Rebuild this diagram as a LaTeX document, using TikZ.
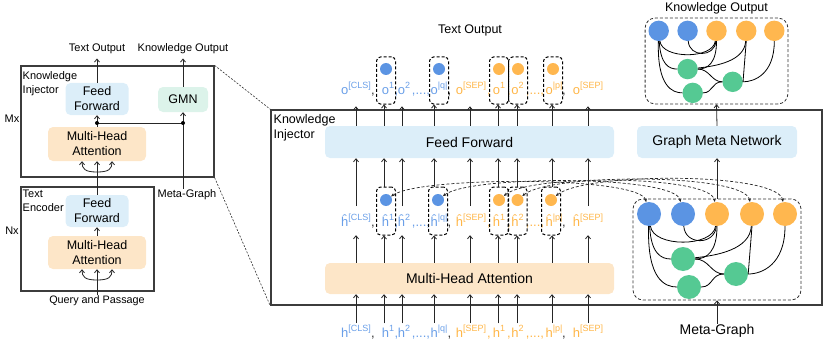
\documentclass[tikz,border=0pt]{standalone}
\usepackage{fontspec}
\setmainfont{Liberation Sans}
\usetikzlibrary{arrows.meta,calc}
\definecolor{ffblue}{HTML}{DCEEF9}
\definecolor{mhaor}{HTML}{FDE6C8}
\definecolor{gmngr}{HTML}{DCF3EA}
\definecolor{nblue}{HTML}{5B94E3}
\definecolor{norange}{HTML}{FFB74F}
\definecolor{ngreen}{HTML}{55C993}
\definecolor{tblue}{HTML}{6A9FE8}
\definecolor{torange}{HTML}{FFB648}
\definecolor{dk}{HTML}{333333}
\definecolor{frame}{HTML}{3C3C3C}
\newcommand{\tokfont}{\fontsize{13}{15}\selectfont}
\newcommand{\sps}[1]{\raisebox{0.4em}{\fontsize{9}{9}\selectfont #1}}
\newcommand{\kgbody}{%
  \node[gbox] (-box) at (0,0) {};
  \node[gn,fill=nblue] (-b1) at (-68,-35.5) {};
  \node[gn,fill=nblue] (-b2) at (-34,-35.5) {};
  \node[gn,fill=norange] (-o1) at (0,-35.5) {};
  \node[gn,fill=norange] (-o2) at (35,-35.5) {};
  \node[gn,fill=norange] (-o3) at (68,-35.5) {};
  \node[gn,fill=ngreen] (-g1) at (-34,9.5) {};
  \node[gn,fill=ngreen] (-g2) at (-28,37.5) {};
  \node[gn,fill=ngreen] (-g3) at (19,24.5) {};
  \draw[ge] (-b1) .. controls (-64,-2) and (-4,-2) .. (-o1);
  \draw[ge] (-b2) .. controls (-32,-4) and (-2,-4) .. (-o1);
  \draw[ge] (-b1) .. controls (-66,4) and (-56,9.5) .. (-g1);
  \draw[ge] (-b1) .. controls (-70,30) and (-52,37.5) .. (-g2);
  \draw[ge] (-o1) .. controls (0,2) and (-10,9.5) .. (-g1);
  \draw[ge] (-o2) .. controls (33,0) and (0,6) .. (-g1);
  \draw[ge] (-o2.south) -- (-g3.east);
  \draw[ge] (-o3) .. controls (68,15) and (45,24.5) .. (-g3);
  \draw[ge] (-g1) .. controls (-8,9.5) and (-6,24.5) .. (-g3);
  \draw[ge] (-g2) .. controls (-4,37.5) and (-6,24.5) .. (-g3);
}
\newcommand{\tokrow}[3]{%
  \node[tokb] (#11) at (356,#3) {#2\sps{[CLS]}};
  \node[tokb] (#12) at (388,#3) {#2\sps{1}};
  \node[tokb] (#13) at (404,#3) {#2\sps{2}};
  \node[tokb] (#14) at (439,#3) {#2\sps{|q|}};
  \node[toko] (#15) at (471,#3) {#2\sps{[SEP]}};
  \node[toko] (#16) at (499,#3) {#2\sps{1}};
  \node[toko] (#17) at (517.5,#3) {#2\sps{2}};
  \node[toko] (#18) at (554,#3) {#2\sps{|p|}};
  \node[toko] (#19) at (588,#3) {#2\sps{[SEP]}};
  \node[tsep=dk] (#1s1) at (373,#3) {,};
  \node[tsep=tblue] (#1s2) at (396.5,#3) {,};
  \node[tsep=tblue] (#1s3) at (421,#3) {,...,};
  \node[tsep=dk] (#1s4) at (449.5,#3) {,};
  \node[tsep=torange] (#1s5) at (489,#3) {,};
  \node[tsep=torange] (#1s6) at (509,#3) {,};
  \node[tsep=torange] (#1s7) at (535,#3) {,...,};
  \node[tsep=dk] (#1s8) at (564,#3) {,};
}
\begin{document}
\begin{tikzpicture}[x=1pt,y=-1pt,
  frm/.style={draw=frame,line width=1.2pt,inner sep=0pt},
  blk/.style={rounded corners=5pt,inner sep=0pt,align=center},
  ar/.style={line width=0.8pt,draw=black!85,-{Straight Barb[length=3pt,width=5pt]}},
  ln/.style={line width=0.8pt,draw=black!85},
  lab/.style={inner sep=0pt,anchor=base},
  tokb/.style={inner sep=0pt,anchor=base,text=tblue,font=\tokfont},
  toko/.style={inner sep=0pt,anchor=base,text=torange,font=\tokfont},
  tsep/.style={inner sep=0pt,anchor=base,text=#1,font=\tokfont},
  dbx/.style={draw=black,dash pattern=on 3pt off 2pt,line width=1pt,rounded corners=4pt,minimum width=19pt,inner sep=0pt},
  tc/.style={circle,inner sep=0pt,minimum size=12pt},
  gn/.style={circle,inner sep=0pt,minimum size=24pt},
  ge/.style={line width=0.8pt,draw=black},
  gbox/.style={draw=black!80,dash pattern=on 3pt off 2pt,line width=0.8pt,rounded corners=10pt,minimum width=168pt,minimum height=101pt,inner sep=0pt},
  darc/.style={draw=black!85,dash pattern=on 3pt off 2pt,line width=0.7pt,{Stealth[length=3.5pt,width=3pt]}-{Stealth[length=3.5pt,width=3pt]}},
  zoomln/.style={draw=black!80,dash pattern=on 2pt off 1.5pt,line width=0.6pt}
]
\useasboundingbox (0,0) rectangle (830,345);
% ---------------- left panel ----------------
\node[frm,minimum width=193pt,minimum height=111pt] (KI) at (117.5,121.5) {};
\node[frm,minimum width=133pt,minimum height=104pt] (TE) at (87.5,239) {};
\node[blk,fill=ffblue,minimum width=63pt,minimum height=32pt,font=\fontsize{12.5}{15}\selectfont] (ff1) at (97,99) {Feed\\Forward};
\node[blk,fill=gmngr,minimum width=50pt,minimum height=25pt,font=\fontsize{12.5}{15}\selectfont] (gmn) at (183,99.5) {GMN};
\node[blk,fill=mhaor,minimum width=98pt,minimum height=34pt,font=\fontsize{12.5}{15}\selectfont] (mha1) at (97,144) {Multi-Head\\Attention};
\node[blk,fill=ffblue,minimum width=63pt,minimum height=32pt,font=\fontsize{12.5}{15}\selectfont] (ff2) at (97,211) {Feed\\Forward};
\node[blk,fill=mhaor,minimum width=98pt,minimum height=33pt,font=\fontsize{12.5}{15}\selectfont] (mha2) at (97,252.5) {Multi-Head\\Attention};
\node[lab,font=\fontsize{11}{13}\selectfont] (lTO) at (97,52) {Text Output};
\node[lab,font=\fontsize{11}{13}\selectfont] (lKO) at (183,52) {Knowledge Output};
\node[inner sep=0pt,anchor=north west,align=left,font=\fontsize{11}{14}\selectfont] (lKI) at (22.5,71) {Knowledge\\Injector};
\node[inner sep=0pt,anchor=north west,align=left,font=\fontsize{11}{14}\selectfont] (lTE) at (22.5,190) {Text\\Encoder};
\node[lab,font=\fontsize{11}{13}\selectfont] (lMx) at (12,122) {Mx};
\node[lab,font=\fontsize{11}{13}\selectfont] (lNx) at (12,234) {Nx};
\node[lab,font=\fontsize{11}{13}\selectfont] (lMG) at (187,197) {Meta-Graph};
\node[lab,font=\fontsize{10.8}{13}\selectfont] (lQP) at (97,303) {Query and Passage};
\draw[ar] (ff1.north) -- ([yshift=-4pt]lTO.south);
\draw[ar] (gmn.north) -- ([yshift=-4pt]lKO.south);
\coordinate (j1) at (97,123);
\coordinate (j2) at (183,123);
\draw[ar] (mha1.north) -- (ff1.south);
\draw[ln] (j1) -- (j2);
\draw[ar] (lMG.north -| gmn.south) -- (gmn.south);
\fill (j1) circle (2pt);
\fill (j2) circle (2pt);
\coordinate (f1) at (97,172);
\draw[ar] (ff2.north) -- (mha1.south);
\draw[ar] (f1) .. controls (85,172) and (82,169) .. ($(mha1.south)+(-15,0)$);
\draw[ar] (f1) .. controls (109,172) and (112,169) .. ($(mha1.south)+(15,0)$);
\draw[ar] (mha2.north) -- (ff2.south);
\coordinate (f2) at (97,280);
\draw[ar] (lQP.north) -- (mha2.south);
\draw[ar] (f2) .. controls (85,280) and (82,277) .. ($(mha2.south)+(-15,0)$);
\draw[ar] (f2) .. controls (109,280) and (112,277) .. ($(mha2.south)+(15,0)$);
% ---------------- right panel ----------------
\node[frm,line width=1.5pt,minimum width=551pt,minimum height=195pt] (RB) at (546.5,207.5) {};
\draw[zoomln] (KI.north east) -- (RB.north west);
\draw[zoomln] (KI.south east) -- (RB.south west);
\node[inner sep=0pt,anchor=north west,align=left,font=\fontsize{12.5}{15}\selectfont] (lKI2) at (273.5,114.5) {Knowledge\\Injector};
\node[blk,fill=ffblue,minimum width=289pt,minimum height=32pt,font=\fontsize{14}{16}\selectfont] (ff3) at (469.5,142) {Feed Forward};
\node[blk,fill=ffblue,minimum width=160pt,minimum height=32pt,font=\fontsize{14}{16}\selectfont] (gmn2) at (717,142) {Graph Meta Network};
\node[blk,fill=mhaor,minimum width=289pt,minimum height=31pt,font=\fontsize{14}{16}\selectfont] (mha3) at (469.5,278.5) {Multi-Head Attention};
\node[lab,font=\fontsize{12.5}{15}\selectfont] (lTO2) at (470,34) {Text Output};
\node[lab,font=\fontsize{12.5}{15}\selectfont] (lKO2) at (716.5,12) {Knowledge Output};
\node[lab,font=\fontsize{14}{16}\selectfont] (lMG2) at (717,334) {Meta-Graph};
\begin{scope}[shift={(716.5,61)},scale=0.85,transform shape,name prefix=KO]
\kgbody
\end{scope}
\begin{scope}[shift={(717,249.5)},name prefix=MG]
\kgbody
\end{scope}
\draw[ar] (MG-box.north) -- (gmn2.south);
\draw[ar] (gmn2.north) -- (KO-box.south);
\draw[ar] (lMG2.north) -- (MG-box.south);
% tokens
\tokrow{o}{o}{94}
\tokrow{hh}{ĥ}{226}
\tokrow{hi}{h}{337}
\foreach \i/\x in {1/356,2/384,3/402,4/434,5/470,6/498,7/517,8/552,9/588}
  \coordinate (k\i) at (\x,0);
\foreach \i/\x/\c in {2/386/nblue,4/439/nblue,6/499/norange,7/518/norange,8/553/norange} {
  \node[tc,fill=\c] (oc\i) at (\x,69) {};
  \node[dbx,minimum height=47pt] (ob\i) at (\x,80.5) {};
}
\foreach \i/\x/\c in {2/386/nblue,4/438/nblue,6/499/norange,7/517.5/norange,8/551/norange} {
  \node[tc,fill=\c] (hc\i) at (\x,200) {};
  \node[dbx,minimum height=48pt] (hb\i) at (\x,211) {};
}
\foreach \i in {1,3,5,9} {
  \draw[ar] (ff3.north -| k\i) -- ($(o\i.south -| k\i)+(0,12)$);
  \draw[ar] (mha3.north -| k\i) -- ($(hh\i.south -| k\i)+(0,9)$);
  \draw[ar] ($(hh\i.north -| k\i)+(0,-8)$) -- (ff3.south -| k\i);
}
\foreach \i in {2,4,6,7,8} {
  \draw[ar] (ff3.north -| k\i) -- (ob\i.south -| k\i);
  \draw[ar] (mha3.north -| k\i) -- (hb\i.south -| k\i);
  \draw[ar] (hb\i.north -| k\i) -- (ff3.south -| k\i);
}
\foreach \i in {1,...,9}
  \draw[ar] ($(hi\i.north -| k\i)+(0,-2)$) -- (mha3.south -| k\i);
% dashed links token circles <-> meta-graph nodes
\draw[darc] (hc2) .. controls (420,176) and (640,176) .. (MG-b1);
\draw[darc] (hc4) .. controls (470,175) and (675,175) .. (MG-b2);
\draw[darc] (hc6) .. controls (530,174) and (710,175) .. (MG-o1);
\draw[darc] (hc7) .. controls (550,173) and (745,173) .. (MG-o2);
\draw[darc] (hc8) .. controls (585,172) and (778,172) .. (MG-o3);
\end{tikzpicture}
\end{document}
